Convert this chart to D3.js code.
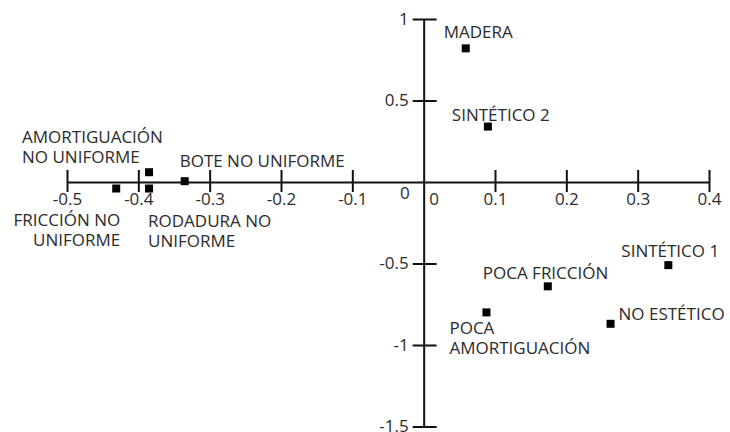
<!DOCTYPE html>
<html>
<head>
<meta charset="utf-8">
<script src="https://cdn.jsdelivr.net/npm/d3@7"></script>
<style>
  body { margin: 0; background: #fff; }
  svg text { font-family: "Open Sans", sans-serif; fill: #2b2b2b; }
</style>
</head>
<body>
<svg id="chart" width="730" height="432"></svg>
<script>
// map coordinates of each attribute
const names = ["MADERA", "SINTÉTICO 2", "SINTÉTICO 1", "POCA FRICCIÓN", "NO ESTÉTICO",
    "POCA AMORTIGUACIÓN", "AMORTIGUACIÓN NO UNIFORME", "BOTE NO UNIFORME",
    "FRICCIÓN NO UNIFORME", "RODADURA NO UNIFORME"];
const xValues = [0.059, 0.090, 0.343, 0.174, 0.262, 0.088, -0.385, -0.335, -0.431, -0.385];
const yValues = [0.82, 0.34, -0.51, -0.64, -0.87, -0.80, 0.06, 0.005, -0.04, -0.04];
const xTicks = [-0.5, -0.4, -0.3, -0.2, -0.1, 0, 0.1, 0.2, 0.3, 0.4];
const yTicks = [1, 0.5, 0, -0.5, -1, -1.5];

const data = names.map((name, i) => ({ name, x: xValues[i], y: yValues[i] }));

const svg = d3.select("#chart");

const xScale = d3.scaleLinear().domain([-0.5, 0.4]).range([67, 709]);
const yScale = d3.scaleLinear().domain([-1.5, 1]).range([426.5, 19]);

const fmt = d => String(d);

// horizontal axis through y = 0
const xAxis = d3.axisBottom(xScale).tickValues(xTicks).tickFormat(fmt)
    .tickSizeInner(10).tickSizeOuter(0).tickPadding(1);
const gx = svg.append("g")
    .attr("transform", `translate(0,${yScale(0)})`)
    .call(xAxis);

// vertical axis through x = 0
const yAxis = d3.axisLeft(yScale).tickValues(yTicks).tickFormat(fmt)
    .tickSizeInner(11).tickSizeOuter(0).tickPadding(4);
const gy = svg.append("g")
    .attr("transform", `translate(${xScale(0)},0)`)
    .call(yAxis);

[gx, gy].forEach(g => {
    g.select(".domain").attr("stroke", "#111").attr("stroke-width", 2);
    g.selectAll(".tick line").attr("stroke", "#111").attr("stroke-width", 2);
    g.selectAll(".tick text").attr("font-size", 17).style("font-family", "'Open Sans', sans-serif").attr("fill", "#333");
});

// ticks cross the axes
gx.selectAll(".tick line").attr("y1", -12);
gy.selectAll(".tick line").attr("x1", 13);

// zero ticks: no line, labels offset
gx.selectAll(".tick").filter(d => d === 0).select("line").remove();
gx.selectAll(".tick").filter(d => d === 0).select("text").attr("dx", 10);
gy.selectAll(".tick").filter(d => d === 0).select("line").remove();
gy.selectAll(".tick").filter(d => d === 0).select("text").attr("dy", "0.95em").attr("dx", 1);

// markers
svg.append("g").selectAll("rect")
    .data(data)
    .join("rect")
    .attr("x", d => xScale(d.x) - 4)
    .attr("y", d => yScale(d.y) - 4)
    .attr("width", 8)
    .attr("height", 8)
    .attr("fill", "#000");

// label placement relative to the marker
const labelLayout = {
    "MADERA": { dx: -22, dy: -10, lines: ["MADERA"] },
    "SINTÉTICO 2": { dx: -36, dy: -6, lines: ["SINTÉTICO 2"] },
    "SINTÉTICO 1": { dx: -47, dy: -8, lines: ["SINTÉTICO 1"] },
    "POCA FRICCIÓN": { dx: -65, dy: -7, lines: ["POCA FRICCIÓN"] },
    "NO ESTÉTICO": { dx: 8, dy: -4, lines: ["NO ESTÉTICO"] },
    "POCA AMORTIGUACIÓN": { dx: -37, dy: 22, lines: ["POCA", "AMORTIGUACIÓN"] },
    "AMORTIGUACIÓN NO UNIFORME": { dx: -127, dy: -29, lines: ["AMORTIGUACIÓN", "NO UNIFORME"] },
    "BOTE NO UNIFORME": { dx: -5, dy: -14, lines: ["BOTE NO UNIFORME"] },
    "FRICCIÓN NO UNIFORME": { dx: 4, dy: 37, anchor: "end", lines: ["FRICCIÓN NO", "UNIFORME"] },
    "RODADURA NO UNIFORME": { dx: -1, dy: 38, lines: ["RODADURA NO", "UNIFORME"] }
};

const labels = svg.append("g").selectAll("text")
    .data(data)
    .join("text")
    .attr("font-size", 17)
    .attr("text-anchor", d => labelLayout[d.name].anchor || "start")
    .attr("x", d => xScale(d.x) + labelLayout[d.name].dx)
    .attr("y", d => yScale(d.y) + labelLayout[d.name].dy);

labels.selectAll("tspan")
    .data(d => labelLayout[d.name].lines.map((line, i) => ({ line, i, d })))
    .join("tspan")
    .attr("x", t => xScale(t.d.x) + labelLayout[t.d.name].dx)
    .attr("dy", t => t.i === 0 ? 0 : 20)
    .text(t => t.line);
</script>
</body>
</html>
